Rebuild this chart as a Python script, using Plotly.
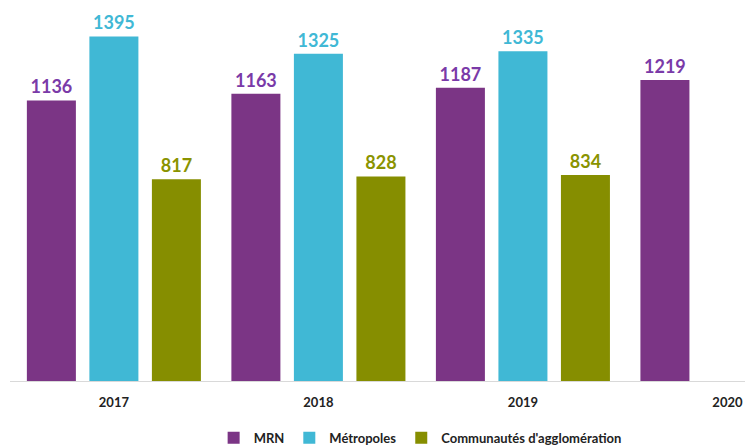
import plotly.graph_objects as go

years = ["2017", "2018", "2019", "2020"]
mrn = [1136, 1163, 1187, 1219]
metropoles = [1395, 1325, 1335, None]
communautes = [817, 828, 834, None]

series = [
    ("MRN", mrn, "#7B3585", "#7A3AA8"),
    ("Métropoles", metropoles, "#40B8D5", "#40B8D5"),
    ("Communautés d'agglomération", communautes, "#868E00", "#8A9300"),
]

fig = go.Figure()
for name, vals, col, tcol in series:
    fig.add_trace(go.Bar(
        x=years, y=vals, name=name,
        marker=dict(color=col, line=dict(width=0)),
        text=[str(v) if v is not None else "" for v in vals],
        textposition="outside",
        textfont=dict(family="Lato", size=18, color=tcol, weight="bold"),
        cliponaxis=False,
    ))

# page body has an 8px margin, so the figure is drawn 8px smaller
fig.update_layout(
    width=745, height=440,
    margin=dict(l=2, r=0, t=0, b=67, autoexpand=False),
    paper_bgcolor="white", plot_bgcolor="white",
    barmode="group", bargap=0.083, bargroupgap=0.216,
    font=dict(family="Lato", color="#222222"),
    showlegend=True,
    legend=dict(orientation="h", x=0.552, xanchor="center", y=-0.112, yanchor="top",
                font=dict(family="Lato", size=13, color="#222222", weight="bold"),
                itemwidth=30, traceorder="normal"),
    xaxis=dict(type="category", range=[-0.508, 3.125], showline=True, linecolor="#D9D9D9",
               linewidth=1, ticks="outside", ticklen=9, tickcolor="rgba(0,0,0,0)",
               showgrid=False, automargin=False,
               tickfont=dict(family="Lato", size=13, color="#222222", weight="bold")),
    yaxis=dict(range=[0, 1510], visible=False, showgrid=False, automargin=False),
)

fig.write_html("out.html")
